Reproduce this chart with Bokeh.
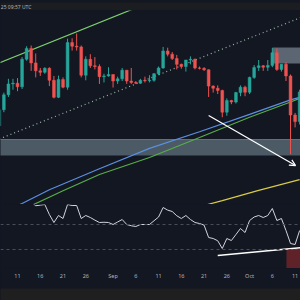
from bokeh.plotting import figure
from bokeh.layouts import column
from bokeh.models import Range1d, FixedTicker, Arrow, OpenHead, Span
from bokeh.embed import file_html
from bokeh.resources import INLINE
from bokeh.core.properties import value

# ---- data (x = days since Aug 1, 2025) ----
days = list(range(6, 73))  # Aug 7 .. Oct 12
opens = [3680, 3905, 4110, 4260, 4270, 4220, 4600, 4750, 4550, 4440, 4420, 4475, 4310, 4075, 4320,
         4215, 4830, 4780, 4770, 4380, 4600, 4510, 4500, 4360, 4370, 4390, 4300, 4330, 4450, 4300,
         4280, 4270, 4310, 4305, 4310, 4400, 4480, 4715, 4670, 4610, 4530, 4500, 4590, 4600, 4480,
         4475, 4455, 4230, 4200, 4170, 3870, 4030, 4010, 4140, 4215, 4145, 4350, 4485, 4510, 4490,
         4515, 4690, 4460, 4530, 4370, 3830, 3740]
highs = [3935, 4140, 4330, 4330, 4340, 4630, 4780, 4790, 4680, 4480, 4490, 4490, 4370, 4375, 4350,
         4885, 4890, 4956, 4790, 4640, 4670, 4630, 4530, 4400, 4490, 4390, 4360, 4480, 4450, 4480,
         4300, 4330, 4360, 4380, 4410, 4500, 4770, 4760, 4700, 4660, 4540, 4590, 4640, 4610, 4500,
         4490, 4460, 4240, 4240, 4180, 4060, 4040, 4150, 4240, 4235, 4360, 4520, 4590, 4520, 4590,
         4755, 4750, 4530, 4560, 4390, 3860, 4180]
lows = [3620, 3870, 4080, 4180, 4160, 4190, 4580, 4440, 4350, 4370, 4400, 4230, 4060, 4065, 4200,
        4180, 4720, 4720, 4350, 4310, 4480, 4460, 4260, 4280, 4360, 4210, 4260, 4300, 4260, 4260,
        4260, 4260, 4280, 4280, 4290, 4380, 4470, 4640, 4590, 4460, 4470, 4430, 4530, 4460, 4460,
        4440, 4080, 4140, 4120, 3800, 3820, 3980, 3990, 4090, 4090, 4120, 4330, 4440, 4440, 4440,
        4490, 4440, 4430, 4300, 3290, 3660, 3700]
closes = [3905, 4110, 4260, 4270, 4220, 4600, 4750, 4550, 4440, 4420, 4475, 4310, 4075, 4320, 4215,
          4830, 4780, 4770, 4380, 4600, 4510, 4500, 4360, 4370, 4390, 4300, 4330, 4450, 4300, 4280,
          4270, 4310, 4305, 4310, 4400, 4480, 4715, 4670, 4610, 4530, 4500, 4590, 4600, 4480, 4475,
          4455, 4230, 4200, 4170, 3870, 4030, 4010, 4140, 4215, 4145, 4350, 4485, 4510, 4490, 4515,
          4690, 4460, 4530, 4370, 3830, 3740, 4150]

ma_blue_days = [6, 11, 17, 28, 39, 50, 61, 70, 72]
ma_blue = [2470, 2610, 2800, 3090, 3370, 3600, 3840, 4040, 4075]
ma_green_days = [6, 13, 20, 28, 39, 50, 61, 70, 72]
ma_green = [2400, 2580, 2785, 3010, 3245, 3520, 3800, 4010, 4060]
ma_yellow_days = [50, 55, 63, 72]
ma_yellow = [2565, 2650, 2790, 2940]

chan_top_days = [6, 40]
chan_top = [4550, 5410]
chan_dot_days = [6, 72.5]
chan_dot = [3500, 5183]

support_band = (3272, 3493)
resist_zone_days = (66, 73)
resist_zone = (4542, 4763)
arrow_from = (52, 3824)
arrow_to = (71.1, 3134)

rsi_days = list(range(12, 73))
rsi = [74, 68, 65, 65.5, 66, 58, 51.6, 57.2, 54.8, 66, 65.2, 65.2, 54.8, 57.2, 55.6, 53.5, 51.6,
       51.8, 51.6, 50, 52, 54, 50, 49, 48.4, 50, 50, 50, 53, 56, 63.6, 61.5, 60.4, 57, 54.8, 57.2,
       54, 51.6, 50.8, 49.5, 39.6, 38.8, 37, 30.8, 38.8, 37.2, 42, 46.8, 43.6, 53.2, 56, 57.2, 55.6,
       57.2, 62.8, 53.2, 54.8, 45.2, 34.8, 34, 45.2]
rsi_levels = [50, 30]
rsi_support_days = [54, 72.5]
rsi_support = [25.2, 31.6]
rsi_zone_days = (69.1, 73)
rsi_zone = (10, 30.8)

tick_days = [10, 15, 20, 25, 31, 36, 41, 46, 51, 56, 61, 66, 71]
tick_labels = ["11", "16", "21", "26", "Sep", "6", "11", "16", "21", "26", "Oct", "6", "11"]
header_text = "25 09:57 UTC"

# ---- style ----
BG = "#131722"
UP = "#26a69a"
DOWN = "#ef5350"

xr = Range1d(6.26, 72.19)


def base(h, yr):
    f = figure(width=300, height=h, x_range=xr, y_range=yr, output_backend="svg",
               toolbar_location=None, x_axis_location=None, y_axis_location=None,
               min_border=0, background_fill_color=BG, border_fill_color=BG)
    f.outline_line_color = None
    f.grid.visible = False
    return f


# header
hdr = figure(width=300, height=10, x_range=Range1d(0, 300), y_range=Range1d(0, 10),
             output_backend="svg", toolbar_location=None, x_axis_location=None,
             y_axis_location=None, min_border=0, background_fill_color="#1c1d20",
             border_fill_color="#1c1d20")
hdr.outline_line_color = None
hdr.grid.visible = False
hdr.text(x=[0.3], y=[5.3], text=[header_text], text_font=value("Noto Sans"),
         text_font_size="5px", text_color="#b4b4b4", text_baseline="middle", text_align="left")

# main
p = base(194, Range1d(2596, 5273))
p.quad(left=[xr.start - 1], right=[xr.end + 1], bottom=[support_band[0]], top=[support_band[1]],
       fill_color="#4b5a65", line_color=None)
p.segment(x0=[xr.start - 1], y0=[support_band[1]], x1=[xr.end + 1], y1=[support_band[1]],
          line_color="#627380", line_width=1)
p.quad(left=[resist_zone_days[0]], right=[resist_zone_days[1]], bottom=[resist_zone[0]],
       top=[resist_zone[1]], fill_color="#5b6672", line_color=None)

p.line(chan_top_days, chan_top, line_color="#7ccf6e", line_width=1.2)
p.line(chan_dot_days, chan_dot, line_color="#9fb9a8", line_width=1.2, line_dash="1 3")

p.line(ma_yellow_days, ma_yellow, line_color="#d8cb45", line_width=1.2)
p.line(ma_green_days, ma_green, line_color="#57ad4a", line_width=1.2)
p.line(ma_blue_days, ma_blue, line_color="#5b8fe0", line_width=1.2)

cols = [UP if c >= o else DOWN for o, c in zip(opens, closes)]
tops = [max(o, c) for o, c in zip(opens, closes)]
bots = [min(o, c) for o, c in zip(opens, closes)]
p.segment(x0=days, y0=lows, x1=days, y1=highs, line_color=cols, line_width=1)
p.vbar(x=days, width=0.62, top=tops, bottom=bots, fill_color=cols, line_color=cols, line_width=0.5)

p.add_layout(Arrow(x_start=arrow_from[0], y_start=arrow_from[1], x_end=arrow_to[0], y_end=arrow_to[1],
                   line_color="white", line_width=1.3,
                   end=OpenHead(size=6, line_color="white", line_width=1.3)))

# RSI
r = base(64, Range1d(14.8, 66))
r.quad(left=[rsi_zone_days[0]], right=[rsi_zone_days[1]], bottom=[rsi_zone[0]], top=[rsi_zone[1]],
       fill_color="#5e2228", line_color=None)
for lv in rsi_levels:
    r.add_layout(Span(location=lv, dimension="width", line_color="#4a4e5a", line_width=1,
                      line_dash="3 3"))
r.line(rsi_days, rsi, line_color="#d1d4dc", line_width=1)
r.line(rsi_support_days, rsi_support, line_color="white", line_width=1.6)

# bottom (time axis)
b = figure(width=300, height=32, x_range=xr, y_range=Range1d(0, 1), output_backend="svg",
           toolbar_location=None, x_axis_location="above", y_axis_location=None, min_border=0,
           background_fill_color="#1f1f1f", border_fill_color=BG)
b.outline_line_color = None
b.grid.visible = False
ax = b.xaxis[0]
ax.ticker = FixedTicker(ticks=tick_days)
ax.major_label_overrides = {d: l for d, l in zip(tick_days, tick_labels)}
ax.axis_line_color = None
ax.major_tick_line_color = None
ax.minor_tick_line_color = None
ax.major_label_standoff = 3
ax.major_label_text_font = "Noto Sans"
ax.major_label_text_font_size = "5.5px"
ax.major_label_text_color = "#b2b5be"

layout = column(hdr, p, r, b, spacing=0, styles={"background-color": BG})
open("out.html", "w").write(file_html(layout, INLINE))
